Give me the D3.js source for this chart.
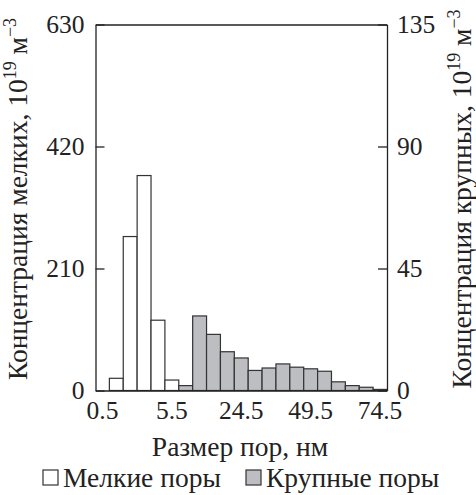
<!DOCTYPE html>
<html><head><meta charset="utf-8">
<script src="https://cdn.jsdelivr.net/npm/d3@7/dist/d3.min.js"></script>
<style>
html,body{margin:0;padding:0;background:#fff;}
svg{display:block;}
text{font-family:"Liberation Serif","Times New Roman",serif;fill:#222;}
</style></head>
<body><svg id="chart" width="476" height="495"></svg>
<script>
// Pore size bins (nm)
const sizeBins = ["0.5","1.5","2.5","3.5","4.5","5.5","6.5","9.5","14.5","19.5","24.5","29.5","34.5","39.5","44.5","49.5","54.5","59.5","64.5","69.5","74.5"];
const xTickLabels = ["0.5","5.5","24.5","49.5","74.5"];
// Small pores concentration, 10^19 m^-3 (left axis)
const smallPores = [null,21,265,370,121,18,null,null,null,null,null,null,null,null,null,null,null,null,null,null,null];
// Large pores concentration, 10^19 m^-3 (right axis)
const largePores = [null,null,null,null,null,null,1.8,27.5,20.7,14.3,12.0,7.4,8.3,9.8,8.6,8.0,7.1,3.2,1.8,1.2,0.4];
const leftTicks = [0,210,420,630];
const rightTicks = [0,45,90,135];
const seriesNames = ["Мелкие поры","Крупные поры"];

const svg = d3.select("#chart");
const L = 95.5, R = 387, T = 24.5, B = 390.5;
const FT = 25.5; // tick font
const FS = 27.5; // titles / legend
const ink = "#222";

const x = d3.scaleBand().domain(sizeBins).range([L, R]).padding(0);
const yL = d3.scaleLinear().domain([0, 630]).range([B, T]);
const yR = d3.scaleLinear().domain([0, 135]).range([B, T]);

// bars
const gBars = svg.append("g");
gBars.selectAll("rect.small").data(sizeBins.map((b,i)=>({b, v:smallPores[i]})).filter(d=>d.v!=null))
  .join("rect").attr("class","small")
  .attr("x", d=>x(d.b)).attr("width", x.bandwidth())
  .attr("y", d=>yL(d.v)).attr("height", d=>B - yL(d.v))
  .attr("fill","#fff").attr("stroke","#333").attr("stroke-width",1.2);
gBars.selectAll("rect.large").data(sizeBins.map((b,i)=>({b, v:largePores[i]})).filter(d=>d.v!=null))
  .join("rect").attr("class","large")
  .attr("x", d=>x(d.b)).attr("width", x.bandwidth())
  .attr("y", d=>yR(d.v)).attr("height", d=>B - yR(d.v))
  .attr("fill","#bdbec2").attr("stroke","#333").attr("stroke-width",1.2);

function styleAxis(g){
  g.selectAll("path,line").attr("stroke", ink).attr("stroke-width",1.3);
  g.selectAll("text").attr("font-size",FT).attr("fill",ink).attr("font-family",'"Liberation Serif","Times New Roman",serif');
}

svg.append("g").attr("transform",`translate(${L},0)`)
  .call(d3.axisLeft(yL).tickValues(leftTicks).tickSize(-9).tickSizeOuter(0).tickPadding(11))
  .call(styleAxis);
svg.append("g").attr("transform",`translate(${R},0)`)
  .call(d3.axisRight(yR).tickValues(rightTicks).tickSize(-9).tickSizeOuter(0).tickPadding(10))
  .call(styleAxis);
svg.append("g").attr("transform",`translate(0,${B})`)
  .call(d3.axisBottom(x).tickValues(xTickLabels).tickSize(0).tickSizeOuter(0).tickPadding(10))
  .call(styleAxis);
svg.append("g").attr("transform",`translate(0,${T})`)
  .call(d3.axisTop(x).tickValues([]).tickSize(0).tickSizeOuter(0))
  .call(styleAxis);

// axis titles
svg.append("text").attr("x",240).attr("y",456).attr("text-anchor","middle")
  .attr("font-size",FS).text("Размер пор, нм");

function yTitle(xp, label){
  const t = svg.append("text").attr("transform",`translate(${xp},${199}) rotate(-90)`)
    .attr("text-anchor","middle").attr("font-size",FS);
  t.append("tspan").text(label + ", 10");
  t.append("tspan").attr("dy",-11).attr("font-size",18).text("19");
  t.append("tspan").attr("dy",11).text(" м");
  t.append("tspan").attr("dy",-11).attr("font-size",18).text("−3");
}
yTitle(27, "Концентрация мелких");
yTitle(471, "Концентрация крупных");

// legend
const leg = [{name:seriesNames[0], fill:"#fff", x:43},{name:seriesNames[1], fill:"#bdbec2", x:246}];
leg.forEach(d=>{
  svg.append("rect").attr("x",d.x).attr("y",470).attr("width",15).attr("height",15)
    .attr("fill",d.fill).attr("stroke","#333").attr("stroke-width",1.2);
  svg.append("text").attr("x",d.x+20).attr("y",487).attr("font-size",FS).text(d.name);
});
</script></body></html>
